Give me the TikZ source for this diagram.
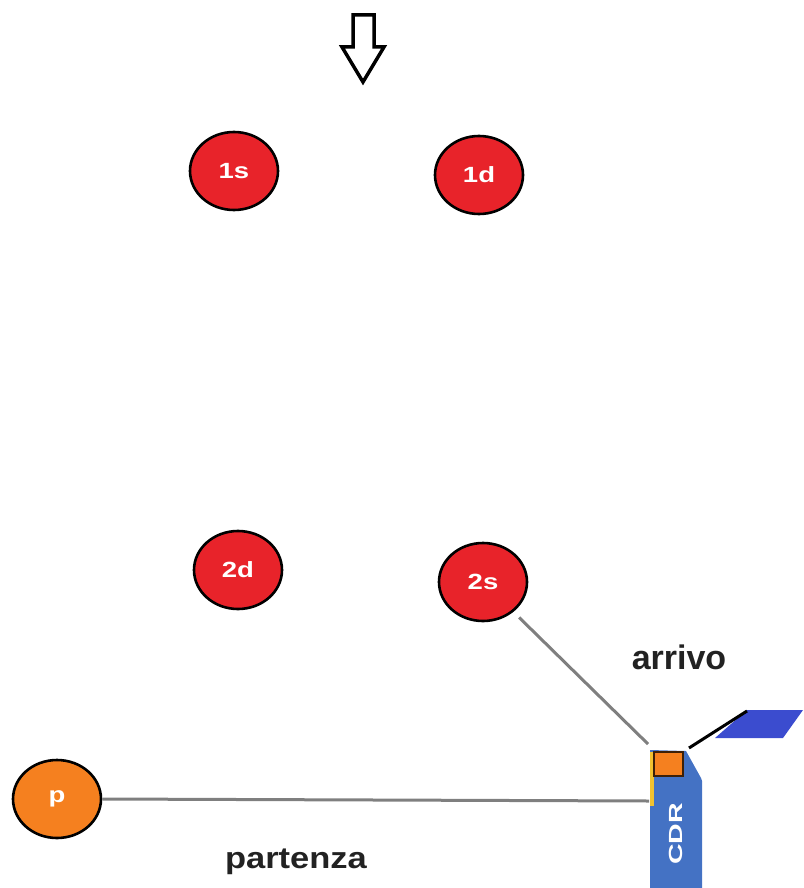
\documentclass[tikz,border=0pt]{standalone}
\usepackage{fontspec}
\setmainfont{Liberation Sans}
\usetikzlibrary{shapes.geometric}
\definecolor{redfill}{HTML}{E8232A}
\definecolor{orangefill}{HTML}{F5801F}
\definecolor{cdrblue}{HTML}{4472C4}
\definecolor{flagblue}{HTML}{3B4CCF}
\definecolor{linegray}{HTML}{7F7F7F}
\definecolor{ygold}{HTML}{F2C230}
\definecolor{txt}{HTML}{222222}
\tikzset{
  ball/.style={ellipse, draw=black, line width=2.6pt, fill=redfill,
    minimum width=88pt, minimum height=78pt, inner sep=0pt,
    text=white, font=\bfseries\fontsize{22}{24}\selectfont},
  pball/.style={ball, fill=orangefill},
  conn/.style={draw=linegray, line width=3pt},
  bigtxt/.style={text=txt, font=\bfseries\fontsize{34}{40}\selectfont, inner sep=0pt}
}
\begin{document}
\begin{tikzpicture}[x=1pt,y=-1pt]
\useasboundingbox (0,0) rectangle (803,888);
% hollow arrow
\draw[line width=3.5pt, line join=miter, fill=white]
  (353,15) -- (353,47) -- (342,47) -- (363,82) -- (384,47) -- (374,47) -- (374,15) -- cycle;
% balls
\node[ball] (b1s) at (234,171) {\scalebox{1.25}[1]{1s}};
\node[ball] (b1d) at (479,175) {\scalebox{1.25}[1]{1d}};
\node[ball] (b2d) at (238,570) {\scalebox{1.25}[1]{2d}};
\node[ball] (b2s) at (483,582) {\scalebox{1.25}[1]{2s}};
\node[pball] (p) at (57,799) {\scalebox{1.25}[1]{p}};
% CDR body
\fill[cdrblue] (650,750) -- (686,751) -- (701,778) -- (702,781) -- (702,889) -- (650,889) -- cycle;
\fill[ygold] (650,752) rectangle (653.5,806);
\draw[fill=orangefill, draw=black!75!orangefill, line width=1.2pt] (654,752) -- (683,752) -- (683,776) -- (654,776) -- cycle;
\node[rotate=90, text=white, font=\bfseries\fontsize{19}{20}\selectfont, inner sep=0pt] (cdr) at (676,834) {\scalebox{1.5}[1]{CDR}};
% flag
\fill[flagblue] (747,710) -- (803,710) -- (783,738) -- (715,738) -- cycle;
\coordinate (flagbase) at (689,748);
\coordinate (flagtip) at (747,711);
\draw[line width=3pt] (flagbase) -- (flagtip);
% connectors
\coordinate (cdrleft) at (649,801);
\coordinate (cdrtop) at (648,744);
\draw[conn] (p.east) -- (cdrleft);
\draw[conn, shorten <=8pt] (b2s) -- (cdrtop);
% labels
\node[bigtxt] (arrivo) at (679,657) {arrivo};
\node[bigtxt, font=\bfseries\fontsize{30}{36}\selectfont] (partenza) at (296,862) {\scalebox{1.15}[1]{partenza}};
\end{tikzpicture}
\end{document}
